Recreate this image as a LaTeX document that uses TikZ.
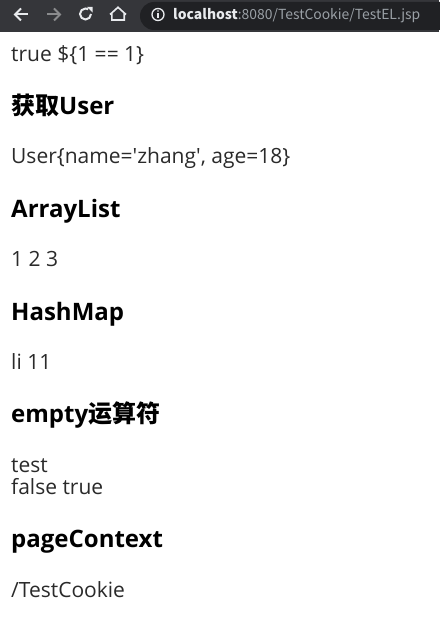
\documentclass[tikz,border=0pt]{standalone}
\usepackage{fontspec}
\setmainfont{Open Sans}[Ligatures=TeXOff]
\newfontfamily\cjk{Noto Sans CJK SC}
\usepackage{tikz}
\usetikzlibrary{arrows.meta, positioning}

\definecolor{barbg}{HTML}{35363A}
\definecolor{pillbg}{HTML}{202124}
\definecolor{iconfg}{HTML}{E8EAED}
\definecolor{icondim}{HTML}{8A8B8D}
\definecolor{urlgray}{HTML}{9AA0A6}
\definecolor{txt}{HTML}{2A2A2A}

\begin{document}
\begin{tikzpicture}[x=1pt, y=-1pt,
    body/.style={anchor=base west, inner sep=0pt, text=txt, font=\fontsize{21}{24}\selectfont},
    head/.style={anchor=base west, inner sep=0pt, text=black, font=\fontsize{24}{27}\selectfont\bfseries},
    icon/.style={draw=iconfg, line width=2pt}]
    \useasboundingbox (0,0) rectangle (439,623);

    % Browser bar
    \fill[barbg] (0,0) rectangle (439,32);
    \fill[pillbg, rounded corners=14pt] (140,2) rectangle (470,30);
    \draw[icon] (28,14.5) -- (15,14.5);
    \draw[icon] (21,8.5) -- (15,14.5) -- (21,20.5);
    \draw[icon, draw=icondim] (47,14.5) -- (60,14.5);
    \draw[icon, draw=icondim] (54,8.5) -- (60,14.5) -- (54,20.5);
    \draw[icon] (85.5,14) ++(0:5.5) arc[start angle=0, end angle=300, radius=5.5];
    \fill[iconfg] (87,7) -- (92.7,7) -- (92.7,12.7) -- cycle;
    \draw[icon, line width=1.6pt, line join=miter] (110,14.5) -- (118,7.3) -- (126,14.5) (111.8,13) -- (111.8,20) -- (124.2,20) -- (124.2,13);
    \draw[iconfg, line width=1.3pt] (158,14.5) circle[radius=6];
    \fill[iconfg] (158,11) circle[radius=0.9];
    \fill[iconfg] (157.3,13) rectangle (158.7,18.5);
    \node[anchor=base west, inner sep=0pt, font=\cjk\fontsize{13.9}{17}\selectfont] (url) at (173,19.5)
        {\textcolor{iconfg}{\bfseries localhost}\textcolor{urlgray}{:8080/TestCookie/TestEL.jsp}};

    % Nodes
    \node[body] (eltest) at (11,62) {true \$\{1 == 1\}};
    \node[head] (huser) at (11,114) {{\cjk 获取}User};
    \node[body] (user) at (11,163) {User\{name='zhang', age=18\}};
    \node[head] (hlist) at (11,217) {ArrayList};
    \node[body] (list) at (11,266) {1 2 3};
    \node[head] (hmap) at (11,320) {HashMap};
    \node[body] (map) at (11,369) {li 11};
    \node[head] (hempty) at (11,422) {empty{\cjk 运算符}};
    \node[body] (etest) at (11,472) {test};
    \node[body] (ebool) at (11,494) {false true};
    \node[head] (hctx) at (11,547) {pageContext};
    \node[body] (ctx) at (11,597) {/TestCookie};

\end{tikzpicture}
\end{document}
